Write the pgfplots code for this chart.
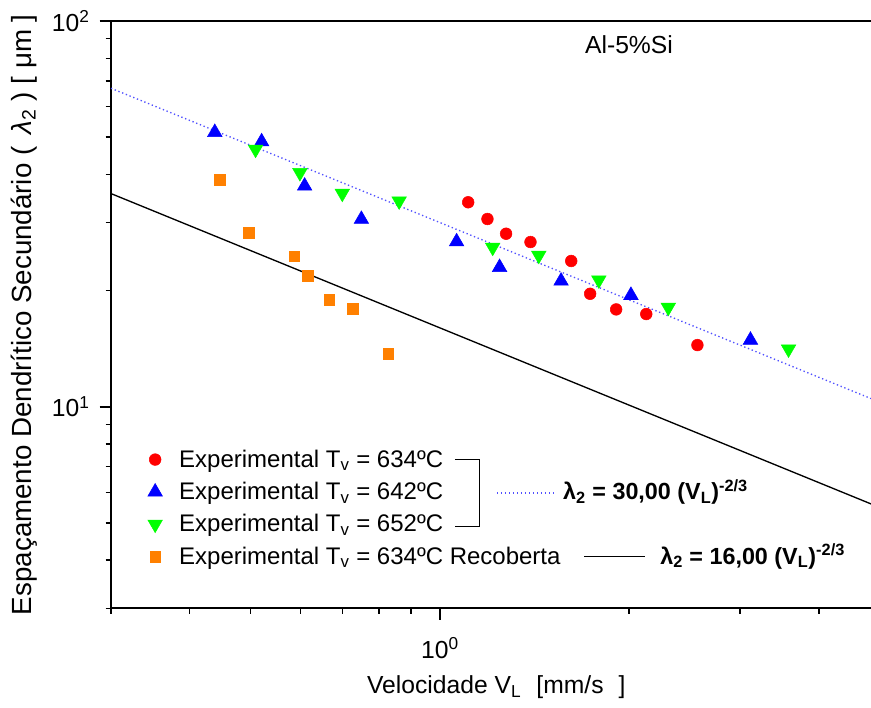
\documentclass[border=0pt]{standalone}
\usepackage{pgfplots}
\pgfplotsset{compat=1.18}
\usepackage{fontspec}
\setmainfont{Liberation Sans}
\definecolor{cred}{RGB}{255,0,0}
\definecolor{cblue}{RGB}{0,0,255}
\definecolor{cgreen}{RGB}{0,255,0}
\definecolor{corange}{RGB}{255,128,0}
\definecolor{cdot}{RGB}{80,80,255}
\begin{document}
\begin{tikzpicture}[font=\fontsize{18.5}{22}\selectfont]
\begin{axis}[
  scale only axis, width=570pt, height=440.6pt,
  xmode=log, ymode=log,
  xmin=0.3, xmax=4.844, ymin=3, ymax=100,
  axis x line*=box, axis y line*=left,
  tick pos=left, tick align=outside,
  xtick={1}, xticklabels={10\textsuperscript{0}},
  ytick={10,100}, yticklabels={10\textsuperscript{1},10\textsuperscript{2}},
  xticklabel style={yshift=-10pt},
  yticklabel style={xshift=-4pt},
  minor xtick={0.3,0.4,0.5,0.6,0.7,0.8,0.9,2,3,4},
  minor ytick={3,4,5,6,7,8,9,20,30,40,50,60,70,80,90},
  major tick length=8.5pt, minor tick length=4pt,
  axis line style={line width=1.5pt},
  every tick/.style={black, line width=1.2pt},
  xlabel={Velocidade V\textsubscript{L}\,\, [mm/s\,\, ]},
  xlabel style={yshift=-6pt, xshift=4pt},
  ylabel={Espaçamento Dendrítico Secundário (\, \textit{λ}\textsubscript{2} ) [ μm ]},
  ylabel style={font=\fontsize{20.8}{24}\selectfont, yshift=4pt},
  legend image code/.code={\path[draw=none] (-10pt,0pt) -- (16pt,0pt); \draw[#1] plot coordinates {(0pt,0pt)};},
  legend style={at={(axis description cs:0.035,0.2795)}, anchor=north west, draw=none, fill=none,
    row sep=5.7pt, font=\fontsize{18}{21}\selectfont},
  legend cell align=left,
]
\addplot[only marks, mark=*, mark size=4.4pt, color=cred] coordinates {
 (1.109,33.89) (1.190,30.67) (1.274,28.09) (1.393,26.73) (1.617,23.87)
 (1.733,19.63) (1.906,17.88) (2.128,17.39) (2.566,14.45)};
\addlegendentry{Experimental T\textsubscript{v} = 634ºC}
\addplot[only marks, mark=triangle*, mark size=6.3pt, color=cblue] coordinates {
 (0.4387,51.44) (0.5207,48.65) (0.6095,37.35) (0.7503,30.62) (1.063,26.78)
 (1.244,22.98) (1.558,21.18) (2.012,19.45) (3.116,14.89)};
\addlegendentry{Experimental T\textsubscript{v} = 642ºC}
\addplot[only marks, mark=triangle*, mark size=6.3pt, mark options={rotate=180}, color=cgreen] coordinates {
 (0.5093,46.49) (0.5991,40.44) (0.6996,35.75) (0.8614,34.15) (1.213,25.90)
 (1.436,24.69) (1.789,21.31) (2.307,18.10) (3.582,14.11)};
\addlegendentry{Experimental T\textsubscript{v} = 652ºC}
\addplot[only marks, mark=square*, mark size=4pt, color=corange] coordinates {
 (0.4468,38.71) (0.4970,28.21) (0.5868,24.55) (0.6169,21.86) (0.6671,18.91)
 (0.7268,17.92) (0.8274,13.70)};
\addlegendentry{Experimental T\textsubscript{v} = 634ºC Recoberta}
\addplot[cdot, dotted, line width=1pt, forget plot] coordinates {(0.3,66.93) (4.844,10.50)};
\addplot[black, line width=1pt, forget plot] coordinates {(0.3,35.70) (4.844,5.60)};
\node at (rel axis cs:0.6816,0.959) {Al-5\%Si};
\draw[line width=1pt] (rel axis cs:0.4526,0.254) -- (rel axis cs:0.4846,0.254) -- (rel axis cs:0.4846,0.1392) -- (rel axis cs:0.4526,0.1392);
\draw[cdot, dotted, line width=1pt] (rel axis cs:0.5079,0.1966) -- (rel axis cs:0.5842,0.1966);
\node[anchor=base west, inner sep=0pt, font=\fontsize{17.5}{21}\selectfont] at (rel axis cs:0.5947,0.1847) {\textbf{λ\textsubscript{2} = 30,00 (V\textsubscript{L})\textsuperscript{-2/3}}};
\draw[black, line width=1pt] (rel axis cs:0.6224,0.0882) -- (rel axis cs:0.7026,0.0882);
\node[anchor=base west, inner sep=0pt, font=\fontsize{17.5}{21}\selectfont] at (rel axis cs:0.7224,0.0757) {\textbf{λ\textsubscript{2} = 16,00 (V\textsubscript{L})\textsuperscript{-2/3}}};
\coordinate (BBsw) at (rel axis cs:-0.146,-0.1677);
\coordinate (BBne) at (rel axis cs:1,1.0357);
\end{axis}
\pgfresetboundingbox
\path (BBsw) rectangle (BBne);
\end{tikzpicture}
\end{document}
